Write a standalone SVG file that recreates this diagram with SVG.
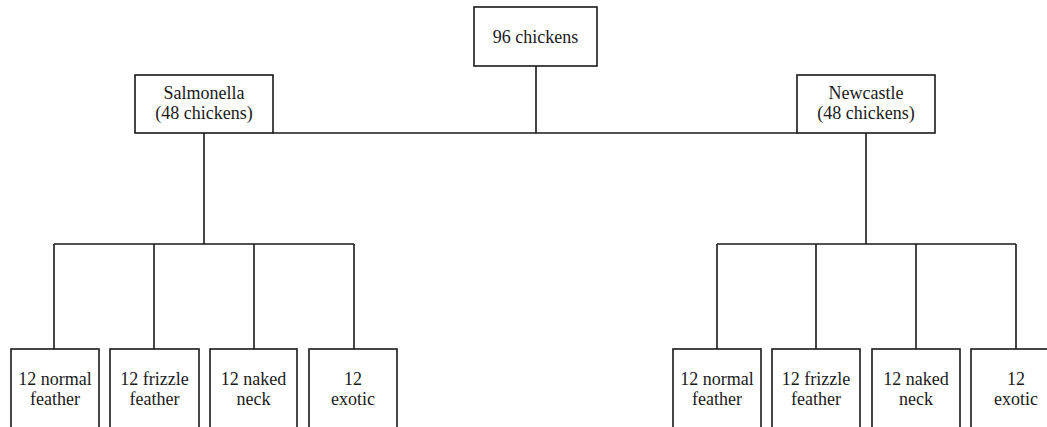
<svg xmlns="http://www.w3.org/2000/svg" width="1047" height="427" viewBox="0 0 1047 427">
<style>
.box{fill:#fff;stroke:#1a1a1a;stroke-width:1.6}
.ln{fill:none;stroke:#1a1a1a;stroke-width:1.6}
.t{font-family:'Liberation Serif','Times New Roman',Tinos,'DejaVu Serif',serif;font-size:18px;fill:#1a1a1a;text-anchor:middle}
</style>
<rect width="1047" height="427" fill="#fff"/>
<g id="connectors" class="ln">
<path d="M536,66V133M273,133H797"/>
<path d="M204,133V244M54,244H354M54,244V349M154,244V349M254,244V349M354,244V349"/>
<path d="M866,133V244M717,244H1016M717,244V349M816,244V349M916,244V349M1016,244V349"/>
</g>
<g id="n-root"><rect class="box" x="474" y="7" width="123" height="59"/><text class="t" font-family="Liberation Serif, serif" x="535.5" y="43">96 chickens</text></g>
<g id="n-salmonella"><rect class="box" x="135" y="75" width="138" height="58"/><text class="t" font-family="Liberation Serif, serif" x="204" y="99">Salmonella</text><text class="t" font-family="Liberation Serif, serif" x="204" y="119">(48 chickens)</text></g>
<g id="n-newcastle"><rect class="box" x="797" y="75" width="138" height="58"/><text class="t" font-family="Liberation Serif, serif" x="866" y="99">Newcastle</text><text class="t" font-family="Liberation Serif, serif" x="866" y="119">(48 chickens)</text></g>
<g id="n-s-normal"><rect class="box" x="11" y="349" width="88" height="90"/><text class="t" font-family="Liberation Serif, serif" x="55" y="385">12 normal</text><text class="t" font-family="Liberation Serif, serif" x="55" y="405">feather</text></g>
<g id="n-s-frizzle"><rect class="box" x="110" y="349" width="89" height="90"/><text class="t" font-family="Liberation Serif, serif" x="154.5" y="385">12 frizzle</text><text class="t" font-family="Liberation Serif, serif" x="154.5" y="405">feather</text></g>
<g id="n-s-naked"><rect class="box" x="210" y="349" width="87" height="90"/><text class="t" font-family="Liberation Serif, serif" x="253.5" y="385">12 naked</text><text class="t" font-family="Liberation Serif, serif" x="253.5" y="405">neck</text></g>
<g id="n-s-exotic"><rect class="box" x="309" y="349" width="88" height="90"/><text class="t" font-family="Liberation Serif, serif" x="353" y="385">12</text><text class="t" font-family="Liberation Serif, serif" x="353" y="405">exotic</text></g>
<g id="n-n-normal"><rect class="box" x="673" y="349" width="88" height="90"/><text class="t" font-family="Liberation Serif, serif" x="717" y="385">12 normal</text><text class="t" font-family="Liberation Serif, serif" x="717" y="405">feather</text></g>
<g id="n-n-frizzle"><rect class="box" x="772" y="349" width="88" height="90"/><text class="t" font-family="Liberation Serif, serif" x="816" y="385">12 frizzle</text><text class="t" font-family="Liberation Serif, serif" x="816" y="405">feather</text></g>
<g id="n-n-naked"><rect class="box" x="872" y="349" width="88" height="90"/><text class="t" font-family="Liberation Serif, serif" x="916" y="385">12 naked</text><text class="t" font-family="Liberation Serif, serif" x="916" y="405">neck</text></g>
<g id="n-n-exotic"><rect class="box" x="971" y="349" width="90" height="90"/><text class="t" font-family="Liberation Serif, serif" x="1016" y="385">12</text><text class="t" font-family="Liberation Serif, serif" x="1016" y="405">exotic</text></g>
</svg>
